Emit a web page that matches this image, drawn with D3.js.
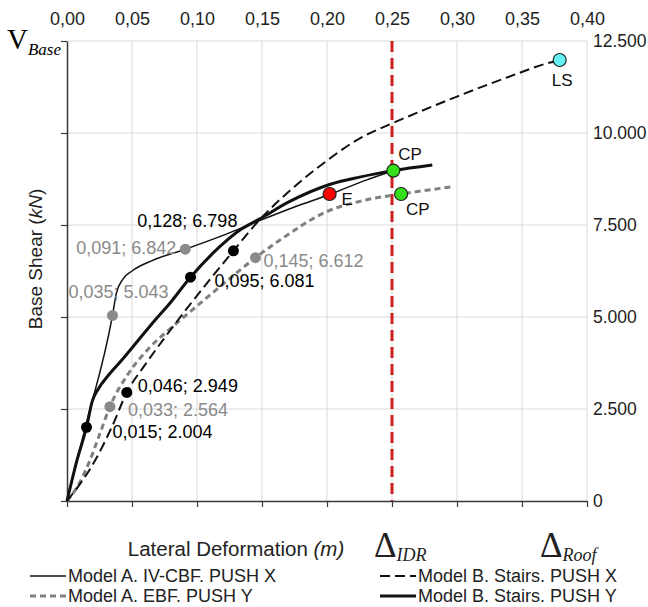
<!DOCTYPE html>
<html>
<head>
<meta charset="utf-8">
<script src="https://cdn.jsdelivr.net/npm/d3@7"></script>
<style>
  body { margin: 0; background: #fff; }
  svg { display: block; font-family: "Liberation Sans", Arial, sans-serif; }
</style>
</head>
<body>
<svg id="chart" width="648" height="607"></svg>
<script>
// ---- data ----
var xTicks = [0, 0.05, 0.10, 0.15, 0.20, 0.25, 0.30, 0.35, 0.40];
var yTicks = [0, 2500, 5000, 7500, 10000, 12500];
var idrLimit = 0.25;

// Model A. IV-CBF. PUSH X (thin solid)
var modelAX = [[0,0],[0.0138,1960],[0.035,5043],[0.038,5650],[0.043,6030],[0.050,6250],[0.066,6540],
  [0.091,6842],[0.118,7190],[0.146,7590],[0.175,7990],[0.203,8342],[0.230,8720],[0.251,8977]];
// Model A. EBF. PUSH Y (grey dashed)
var modelAY = [[0,0],[0.009,450],[0.017,1050],[0.025,1800],[0.033,2564],[0.047,3450],[0.063,4150],
  [0.080,4700],[0.100,5300],[0.122,5950],[0.145,6612],[0.165,7120],[0.199,7850],[0.230,8180],
  [0.257,8342],[0.297,8541]];
// Model B. Stairs. PUSH X (black dashed)
var modelBX = [[0,0],[0.0218,1114],[0.0346,2019],[0.046,2949],[0.060,3700],[0.075,4430],[0.092,5220],
  [0.110,6020],[0.128,6798],[0.148,7636],[0.172,8450],[0.200,9250],[0.225,9850],[0.250,10260],
  [0.270,10560],[0.300,10990],[0.340,11530],[0.370,11900],[0.379,11984]];
// Model B. Stairs. PUSH Y (thick solid)
var modelBY = [[0,0],[0.0077,1110],[0.015,2004],[0.0195,2720],[0.0243,3060],[0.032,3424],[0.0422,3832],
  [0.055,4375],[0.0678,4918],[0.078,5326],[0.095,6081],[0.1175,6910],[0.133,7364],[0.148,7660],
  [0.171,8133],[0.202,8600],[0.225,8800],[0.251,8977],[0.281,9130]];

// labelled points on the curves
var pointsAX = [[0.035,5043],[0.091,6842]];
var pointsAY = [[0.033,2564],[0.145,6612]];
var pointsBX = [[0.046,2949],[0.128,6798]];
var pointsBY = [[0.015,2004],[0.095,6081]];

// performance levels
var levelNames = ["E", "CP", "CP", "LS"];
var levelPoints = [[0.202,8342],[0.251,8977],[0.257,8342],[0.379,11984]];

var legendNames = ["Model A. IV-CBF. PUSH X", "Model B. Stairs. PUSH X",
                   "Model A. EBF. PUSH Y", "Model B. Stairs. PUSH Y"];

// ---- drawing ----
var svg = d3.select("#chart");
var x = d3.scaleLinear().domain([0, 0.40]).range([67, 587]);
var y = d3.scaleLinear().domain([0, 12500]).range([501, 41]);

var loc = d3.formatLocale({decimal: ",", thousands: ".", grouping: [3], currency: ["", ""]});
var fx2 = loc.format(".2f"), fx3 = loc.format(".3f"), fy = loc.format(",d");

var grey = "#8a8a8a", axisCol = "#3a3a3a";

// grid
svg.append("g").selectAll("line").data(xTicks.slice(1)).enter().append("line")
  .attr("x1", d => x(d)).attr("x2", d => x(d)).attr("y1", y(12500)).attr("y2", y(0))
  .attr("stroke", "#d9d9d9").attr("stroke-width", 1);
svg.append("g").selectAll("line").data(yTicks.slice(1)).enter().append("line")
  .attr("x1", x(0)).attr("x2", x(0.40)).attr("y1", d => y(d)).attr("y2", d => y(d))
  .attr("stroke", "#d9d9d9").attr("stroke-width", 1);

// bottom axis (ticks only, no labels)
var axBottom = svg.append("g").attr("transform", "translate(0," + y(0) + ")")
  .call(d3.axisBottom(x).tickValues(xTicks).tickSize(6).tickSizeOuter(0).tickFormat(""));
axBottom.select(".domain").attr("stroke", axisCol).attr("stroke-width", 1.5);
axBottom.selectAll(".tick line").attr("stroke", axisCol).attr("stroke-width", 1.2);

// left axis (ticks only)
var axLeft = svg.append("g").attr("transform", "translate(" + x(0) + ",0)")
  .call(d3.axisLeft(y).tickValues(yTicks).tickSize(6).tickSizeOuter(0).tickFormat(""));
axLeft.select(".domain").attr("stroke", axisCol).attr("stroke-width", 1.5);
axLeft.selectAll(".tick line").attr("stroke", axisCol).attr("stroke-width", 1.2);

// top labels
var axTop = svg.append("g").attr("transform", "translate(0,25)")
  .call(d3.axisTop(x).tickValues(xTicks).tickSize(0).tickPadding(0).tickFormat(fx2));
axTop.select(".domain").remove();
axTop.attr("font-family", null).attr("font-size", 18);
axTop.selectAll("text").attr("fill", "#222");

// right labels
var axRight = svg.append("g").attr("transform", "translate(" + x(0.40) + ",0)")
  .call(d3.axisRight(y).tickValues(yTicks).tickSize(0).tickPadding(6).tickFormat(fy));
axRight.select(".domain").remove();
axRight.attr("font-family", null).attr("font-size", 17.5);
axRight.selectAll("text").attr("fill", "#222");

// IDR limit
svg.append("line")
  .attr("x1", x(idrLimit)).attr("x2", x(idrLimit)).attr("y1", y(12500)).attr("y2", y(0))
  .attr("stroke", "#cc1f1f").attr("stroke-width", 3).attr("stroke-dasharray", "11,6");

// curves
var line = d3.line().x(d => x(d[0])).y(d => y(d[1])).curve(d3.curveMonotoneX);
var series = [
  {data: modelAY, stroke: "#808080", width: 3, dash: "6,4"},
  {data: modelBX, stroke: "#111", width: 2, dash: "10,5"},
  {data: modelAX, stroke: "#111", width: 1.5, dash: null},
  {data: modelBY, stroke: "#111", width: 3, dash: null}
];
series.forEach(function(s) {
  svg.append("path").datum(s.data).attr("d", line).attr("fill", "none")
    .attr("stroke", s.stroke).attr("stroke-width", s.width).attr("stroke-dasharray", s.dash);
});

// labelled dots
var pointSets = [
  {pts: pointsAX, col: grey, offs: [[6,-17,"middle"],[-9,5,"end"]]},
  {pts: pointsAY, col: grey, offs: [[18,9,"start"],[8,9,"start"]]},
  {pts: pointsBX, col: "#000", offs: [[11,0,"start"],[4,-24,"end"]]},
  {pts: pointsBY, col: "#000", offs: [[26,11,"start"],[24,10,"start"]]}
];
pointSets.forEach(function(s) {
  var g = svg.append("g");
  g.selectAll("circle").data(s.pts).enter().append("circle")
    .attr("cx", d => x(d[0])).attr("cy", d => y(d[1])).attr("r", 5.5).attr("fill", s.col);
  g.selectAll("text").data(s.pts).enter().append("text")
    .attr("x", (d, i) => x(d[0]) + s.offs[i][0]).attr("y", (d, i) => y(d[1]) + s.offs[i][1])
    .attr("text-anchor", (d, i) => s.offs[i][2])
    .attr("font-size", 18).attr("fill", s.col)
    .text(d => fx3(d[0]) + "; " + fy(d[1]));
});

// performance points
var levelFill = ["#ff0000", "#33e01a", "#33e01a", "#66f2f2"];
var levelOffs = [[12,11],[5,-11],[5,21],[-8,26]];
svg.append("g").selectAll("circle").data(levelPoints).enter().append("circle")
  .attr("cx", d => x(d[0])).attr("cy", d => y(d[1])).attr("r", 6.5)
  .attr("fill", (d, i) => levelFill[i]).attr("stroke", "#222").attr("stroke-width", 1.2);
svg.append("g").selectAll("text").data(levelPoints).enter().append("text")
  .attr("x", (d, i) => x(d[0]) + levelOffs[i][0]).attr("y", (d, i) => y(d[1]) + levelOffs[i][1])
  .attr("font-size", 17).attr("fill", "#111").text((d, i) => levelNames[i]);

// axis titles
var vb = svg.append("text").attr("x", 7).attr("y", 49).attr("font-family", "'Liberation Serif', serif");
vb.append("tspan").attr("font-size", 29).text("V");
vb.append("tspan").attr("font-size", 17).attr("font-style", "italic").attr("dy", 6).text("Base");

var yt = svg.append("text").attr("transform", "translate(42,259) rotate(-90)")
  .attr("text-anchor", "middle").attr("font-size", 19).attr("fill", "#222");
yt.append("tspan").text("Base Shear (");
yt.append("tspan").attr("font-style", "italic").text("kN");
yt.append("tspan").text(")");

var xt = svg.append("text").attr("x", 236).attr("y", 556).attr("text-anchor", "middle")
  .attr("font-size", 20.5).attr("fill", "#222");
xt.append("tspan").text("Lateral Deformation ");
xt.append("tspan").attr("font-style", "italic").text("(m)");

function deltaLabel(px, sub) {
  var t = svg.append("text").attr("x", px).attr("y", 557).attr("font-family", "'Liberation Serif', serif").attr("fill", "#222");
  t.append("tspan").attr("font-size", 35).text("Δ");
  t.append("tspan").attr("font-size", 18).attr("font-style", "italic").attr("dy", 4).text(sub);
}
deltaLabel(374, "IDR");
deltaLabel(540, "Roof");

// legend
var legendStyle = [
  {stroke: "#111", width: 1.3, dash: null},
  {stroke: "#111", width: 2, dash: "10,5"},
  {stroke: "#808080", width: 3, dash: "6,4"},
  {stroke: "#111", width: 3, dash: null}
];
var legend = svg.append("g").selectAll("g").data(legendNames).enter().append("g")
  .attr("transform", (d, i) => "translate(" + (i % 2 ? 380 : 30) + "," + (i < 2 ? 576 : 596) + ")");
legend.append("line").attr("x1", 0).attr("x2", 36).attr("y1", 0).attr("y2", 0)
  .attr("stroke", (d, i) => legendStyle[i].stroke).attr("stroke-width", (d, i) => legendStyle[i].width)
  .attr("stroke-dasharray", (d, i) => legendStyle[i].dash);
legend.append("text").attr("x", 38).attr("y", 6).attr("font-size", 18).attr("fill", "#222").text(d => d);
</script>
</body>
</html>
